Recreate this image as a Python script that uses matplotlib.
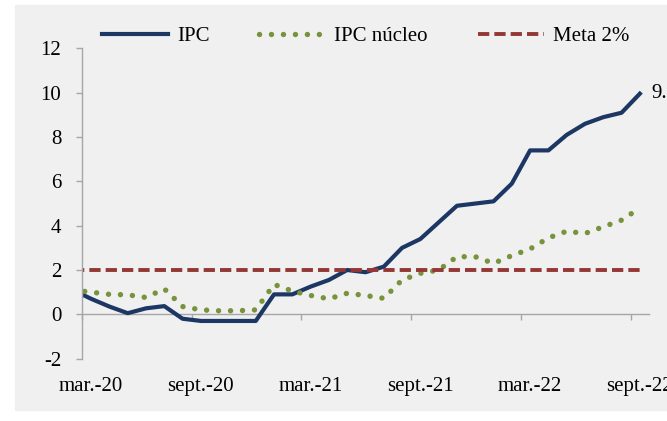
import numpy as np
import pandas as pd
import matplotlib.pyplot as plt
from matplotlib.patches import Rectangle

plt.rcParams['font.family'] = ['Liberation Serif', 'DejaVu Serif']

# monthly data, feb-20 .. sept-22 (first month sits left of the axis)
months = pd.date_range('2020-02-01', '2022-09-01', freq='MS')
ipc = [1.1, 0.7, 0.35, 0.05, 0.27, 0.37, -0.2, -0.3, -0.3, -0.3, -0.3, 0.9,
       0.9, 1.25, 1.55, 2.0, 1.9, 2.15, 3.0, 3.4, 4.15, 4.9, 5.0, 5.1,
       5.9, 7.4, 7.4, 8.1, 8.6, 8.9, 9.1, 9.96]
nucleo = [1.1, 1.0, 0.9, 0.88, 0.76, 1.15, 0.35, 0.2, 0.16, 0.16, 0.2, 1.35,
          1.05, 0.85, 0.7, 0.95, 0.85, 0.72, 1.55, 1.85, 2.0, 2.6, 2.6, 2.3,
          2.65, 2.95, 3.45, 3.75, 3.65, 3.95, 4.25, 4.8]
meta = [2.0] * len(months)
x_labels = ['mar.-20', 'sept.-20', 'mar.-21', 'sept.-21', 'mar.-22', 'sept.-22']
last_label = '9.96'

x = np.arange(len(months))
label_pos = np.arange(1, len(months), 6)
grid_gray = '#a6a6a6'

fig = plt.figure(figsize=(6.67, 4.21), dpi=100)
fig.patches.append(Rectangle((15 / 667, 11 / 421), 1, 405 / 421,
                             transform=fig.transFigure, color='#f0f0f0', zorder=-10))
ax = fig.add_axes([0.1229, 0.1482, 0.8501, 0.7366])
ax.set_facecolor('#f0f0f0')

ax.plot(x, ipc, color='#1c3764', lw=3.0, label='IPC')
ax.plot(x, nucleo, color='#77933c', lw=3.9, linestyle=(0, (0.01, 2.2)),
        dash_capstyle='round', label='IPC núcleo')
ax.plot(x, meta, color='#953735', lw=2.8, linestyle=(0, (2.9, 1.3)), label='Meta 2%')

ax.annotate(last_label, xy=(x[-1], ipc[-1]), xytext=(8.5, 0), textcoords='offset points',
            ha='left', va='center', fontsize=15, annotation_clip=False)

ax.set_xlim(0.5, len(months) - 0.5)
ax.set_ylim(-2, 12)
ax.set_yticks(np.arange(-2, 13, 2))
ax.set_yticklabels([str(v) for v in np.arange(-2, 13, 2)])
ax.set_xticks(label_pos)
ax.set_xticklabels(x_labels)

for side in ['top', 'right', 'bottom']:
    ax.spines[side].set_visible(False)
ax.spines['left'].set_color(grid_gray)
ax.spines['left'].set_linewidth(1)
ax.tick_params(axis='y', direction='out', length=4.3, width=1, color=grid_gray,
               pad=10.5, labelsize=15)
ax.tick_params(axis='x', length=0, pad=13, labelsize=15)

# category axis crossing at zero
ymin, ymax = ax.get_ylim()
zero_ax = ax.secondary_xaxis((0 - ymin) / (ymax - ymin))
zero_ax.set_xticks(label_pos - 0.5)
zero_ax.set_xticklabels([])
zero_ax.spines['bottom'].set_color(grid_gray)
zero_ax.spines['bottom'].set_linewidth(1)
zero_ax.tick_params(axis='x', direction='out', length=4.3, width=1, color=grid_gray)

ax.legend(loc='center', bbox_to_anchor=(0.5, 1.04), ncol=3, frameon=False, fontsize=15,
          handlelength=3.2, handletextpad=0.4, columnspacing=2.4, borderaxespad=0)

fig.savefig('out.png', dpi=100)
